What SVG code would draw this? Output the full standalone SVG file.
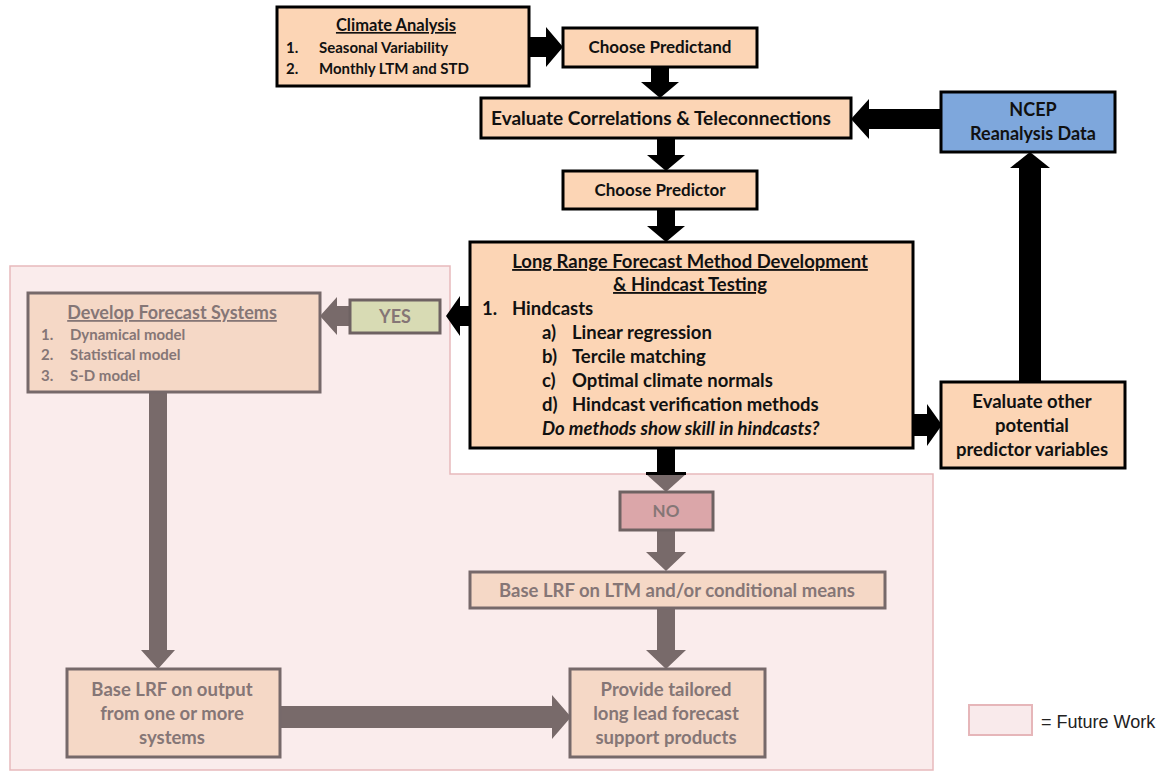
<svg xmlns="http://www.w3.org/2000/svg" width="1167" height="773" viewBox="0 0 1167 773">
<style>
.bx{fill:#fcd5b5;stroke:#000;stroke-width:3}
.fb{fill:#f5d8c6;stroke:#76696a;stroke-width:3}
.t{font-family:Lato,"Open Sans",sans-serif;font-weight:bold;fill:#111}
.g{font-family:Lato,"Open Sans",sans-serif;font-weight:bold;fill:#857676}
.c{text-anchor:middle}
.blk{fill:#000}
.gry{fill:#786a6a}
</style>
<rect width="1167" height="773" fill="#fff"/>
<g id="future-region">
<polygon points="10,266 450,266 450,474 933,474 933,770 10,770" fill="#faecec" stroke="#e7b9bc" stroke-width="1.5"/>
</g>
<g id="connectors">
<polygon class="blk" points="529,37 546,37 546,27 563,47 546,67 546,57 529,57"/>
<polygon class="blk" points="651,67 669,67 669,82 679,82 660,98 641,82 651,82"/>
<polygon class="blk" points="657,138 675,138 675,155 685,155 666,171 647,155 657,155"/>
<polygon class="blk" points="657,209 675,209 675,226 685,226 666,242 647,226 657,226"/>
<polygon class="blk" points="941,109 869,109 869,99 851,119 869,139 869,129 941,129"/>
<polygon class="blk" points="1019,382 1041,382 1041,168 1050,168 1030,152 1010,168 1019,168"/>
<polygon class="blk" points="913,414 927,414 927,404 942,425 927,446 927,436 913,436"/>
<polygon class="blk" points="470,306 460,306 460,296 446,316 460,336 460,326 470,326"/>
<polygon class="gry" points="350,306 337,306 337,297 320,316 337,335 337,326 350,326"/>
<polygon class="gry" points="149,392 167,392 167,650 175,650 158,669 141,650 149,650"/>
<polygon class="gry" points="280,706 552,706 552,695 571,717 552,739 552,728 280,728"/>
<rect class="blk" x="657" y="448" width="18" height="26"/>
<polygon class="gry" points="646,474 686,474 666,492"/>
<rect class="blk" x="646" y="472" width="40" height="3"/>
<polygon class="gry" points="657,530 675,530 675,552 686,552 666,571 646,552 657,552"/>
<polygon class="gry" points="657,608 675,608 675,650 686,650 666,669 646,650 657,650"/>
</g>
<g id="climate-analysis">
<rect class="bx" x="277" y="7" width="252" height="79"/>
<text class="t c" x="396" y="31" font-size="16.5" text-decoration="underline">Climate Analysis</text>
<text class="t" x="286" y="53" font-size="15">1.</text>
<text class="t" x="319" y="53" font-size="15">Seasonal Variability</text>
<text class="t" x="286" y="74" font-size="15">2.</text>
<text class="t" x="319" y="74" font-size="15">Monthly LTM and STD</text>
</g>
<g id="choose-predictand">
<rect class="bx" x="563" y="28" width="194" height="39"/>
<text class="t c" x="660" y="53" font-size="17">Choose Predictand</text>
</g>
<g id="evaluate-correlations">
<rect class="bx" x="481" y="98" width="370" height="40"/>
<text class="t c" x="661" y="125" font-size="19">Evaluate Correlations &amp; Teleconnections</text>
</g>
<g id="ncep">
<rect x="941" y="92" width="174" height="60" fill="#7ea7dc" stroke="#000" stroke-width="3"/>
<text class="t c" x="1033" y="116" font-size="18" fill="#1c2236">NCEP</text>
<text class="t c" x="1033" y="140" font-size="18" fill="#1c2236">Reanalysis Data</text>
</g>
<g id="choose-predictor">
<rect class="bx" x="563" y="171" width="194" height="38"/>
<text class="t c" x="660" y="196" font-size="17">Choose Predictor</text>
</g>
<g id="lrf-development">
<rect class="bx" x="470" y="242" width="443" height="206"/>
<text class="t c" x="690" y="268" font-size="18.5" text-decoration="underline">Long Range Forecast Method Development</text>
<text class="t c" x="690" y="291" font-size="18.5" text-decoration="underline">&amp; Hindcast Testing</text>
<text class="t" x="482" y="315" font-size="18.5">1.</text>
<text class="t" x="512" y="315" font-size="18.5">Hindcasts</text>
<text class="t" x="542" y="339" font-size="18.5">a)</text>
<text class="t" x="572" y="339" font-size="18.5">Linear regression</text>
<text class="t" x="542" y="363" font-size="18.5">b)</text>
<text class="t" x="572" y="363" font-size="18.5">Tercile matching</text>
<text class="t" x="542" y="387" font-size="18.5">c)</text>
<text class="t" x="572" y="387" font-size="18.5">Optimal climate normals</text>
<text class="t" x="542" y="411" font-size="18.5">d)</text>
<text class="t" x="572" y="411" font-size="18.5">Hindcast verification methods</text>
<text class="t" x="542" y="435" font-size="18.5" font-style="italic">Do methods show skill in hindcasts?</text>
</g>
<g id="evaluate-other">
<rect class="bx" x="941" y="382" width="184" height="86"/>
<text class="t c" x="1032" y="408" font-size="18.5">Evaluate other</text>
<text class="t c" x="1032" y="432" font-size="18.5">potential</text>
<text class="t c" x="1032" y="456" font-size="18.5">predictor variables</text>
</g>
<g id="yes">
<rect x="350" y="300" width="90" height="33" fill="#d8dbb4" stroke="#6e6262" stroke-width="3"/>
<text class="g c" x="395" y="323" font-size="18">YES</text>
</g>
<g id="develop-forecast">
<rect class="fb" x="28" y="293" width="292" height="99"/>
<text class="g c" x="172" y="319" font-size="18" text-decoration="underline">Develop Forecast Systems</text>
<text class="g" x="41" y="340" font-size="15">1.</text>
<text class="g" x="70" y="340" font-size="15">Dynamical model</text>
<text class="g" x="41" y="360" font-size="15">2.</text>
<text class="g" x="70" y="360" font-size="15">Statistical model</text>
<text class="g" x="41" y="381" font-size="15">3.</text>
<text class="g" x="70" y="381" font-size="15">S-D model</text>
</g>
<g id="no">
<rect x="620" y="492" width="93" height="38" fill="#dba6a9" stroke="#6e6262" stroke-width="3"/>
<text class="g c" x="666" y="517" font-size="17">NO</text>
</g>
<g id="base-ltm">
<rect class="fb" x="470" y="572" width="415" height="36"/>
<text class="g c" x="677" y="597" font-size="18.5">Base LRF on LTM and/or conditional means</text>
</g>
<g id="base-output">
<rect class="fb" x="67" y="669" width="213" height="88"/>
<text class="g c" x="172" y="696" font-size="18.5">Base LRF on output</text>
<text class="g c" x="172" y="720" font-size="18.5">from one or more</text>
<text class="g c" x="172" y="744" font-size="18.5">systems</text>
</g>
<g id="provide-products">
<rect class="fb" x="570" y="669" width="195" height="88"/>
<text class="g c" x="666" y="696" font-size="18.5">Provide tailored</text>
<text class="g c" x="666" y="720" font-size="18.5">long lead forecast</text>
<text class="g c" x="666" y="744" font-size="18.5">support products</text>
</g>
<g id="legend">
<rect x="969" y="705" width="63" height="30" fill="#f9eaeb" stroke="#e6b6b9" stroke-width="2"/>
<text x="1041" y="728" font-family="Liberation Sans, Arial, sans-serif" font-size="18" fill="#222">= Future Work</text>
</g>
</svg>
